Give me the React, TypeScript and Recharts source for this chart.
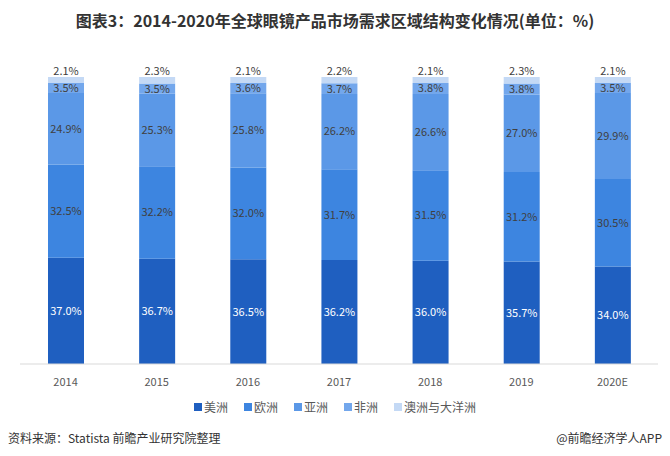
import React from "react";
import { BarChart, Bar, XAxis, YAxis, LabelList } from "recharts";

const years = ["2014", "2015", "2016", "2017", "2018", "2019", "2020E"];
const americas = [37.0, 36.7, 36.5, 36.2, 36.0, 35.7, 34.0];
const europe = [32.5, 32.2, 32.0, 31.7, 31.5, 31.2, 30.5];
const asia = [24.9, 25.3, 25.8, 26.2, 26.6, 27.0, 29.9];
const africa = [3.5, 3.5, 3.6, 3.7, 3.8, 3.8, 3.5];
const oceania = [2.1, 2.3, 2.1, 2.2, 2.1, 2.3, 2.1];

const data = years.map((year, i) => ({
  year,
  americas: americas[i],
  europe: europe[i],
  asia: asia[i],
  africa: africa[i],
  oceania: oceania[i],
}));

const SERIES = [
  { key: "americas", name: "美洲", color: "#1F5FC0", text: "#ffffff" },
  { key: "europe", name: "欧洲", color: "#3D85E0", text: "#404040" },
  { key: "asia", name: "亚洲", color: "#5B98E7", text: "#404040" },
  { key: "africa", name: "非洲", color: "#73A7EC", text: "#404040" },
  { key: "oceania", name: "澳洲与大洋洲", color: "#C4D9F5", text: "#404040" },
];

const FONT = "'Noto Sans CJK SC', 'Noto Sans', sans-serif";
const fmt = (v: unknown) => `${Number(v).toFixed(1)}%`;

function ChartLegend() {
  return (
    <div
      style={{
        position: "absolute",
        top: 398,
        left: 0,
        width: 670,
        display: "flex",
        justifyContent: "center",
        gap: 16,
        fontSize: 12,
        color: "#595959",
      }}
    >
      {SERIES.map((s) => (
        <span key={s.key} style={{ display: "flex", alignItems: "center" }}>
          <span style={{ width: 8, height: 8, background: s.color, marginRight: 2, display: "inline-block" }} />
          {s.name}
        </span>
      ))}
    </div>
  );
}

export default function App() {
  return (
    <div style={{ position: "absolute", left: 0, top: 0, width: 670, height: 456, background: "#fff", fontFamily: FONT }}>
      <div
        style={{
          position: "absolute",
          top: 8,
          left: 0,
          width: 670,
          textAlign: "center",
          fontSize: 16,
          fontWeight: "bold",
          color: "#333",
        }}
      >
        图表3：2014-2020年全球眼镜产品市场需求区域结构变化情况(单位：%)
      </div>
      <BarChart
        width={670}
        height={456}
        data={data}
        margin={{ top: 77, right: 12, left: 20, bottom: 62 }}
        barSize={36}
      >
        <XAxis
          dataKey="year"
          height={30}
          tickLine={false}
          axisLine={{ stroke: "#d9d9d9" }}
          tick={{ fontSize: 11, fill: "#595959", fontFamily: FONT }}
          tickMargin={8}
        />
        <YAxis hide domain={[0, 100]} />
        {SERIES.map((s, idx) => (
          <Bar key={s.key} dataKey={s.key} name={s.name} stackId="a" fill={s.color} isAnimationActive={false}>
            <LabelList
              dataKey={s.key}
              position={idx === SERIES.length - 1 ? "top" : "center"}
              offset={idx === SERIES.length - 1 ? 2 : 5}
              formatter={fmt}
              style={{ fontSize: 11, fill: s.text, fontFamily: FONT }}
            />
          </Bar>
        ))}
      </BarChart>
      <ChartLegend />
      <div style={{ position: "absolute", left: 8, top: 429, fontSize: 12, color: "#333" }}>
        资料来源：Statista 前瞻产业研究院整理
      </div>
      <div style={{ position: "absolute", right: 8, top: 429, fontSize: 12, color: "#333" }}>
        @前瞻经济学人APP
      </div>
    </div>
  );
}
